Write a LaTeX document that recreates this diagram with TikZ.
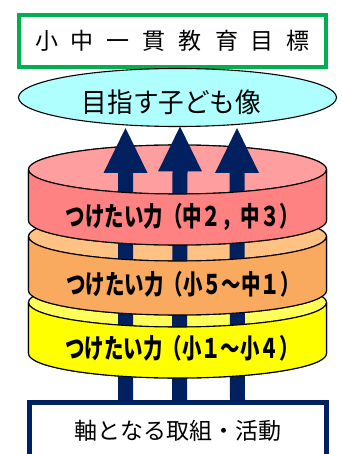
\documentclass[tikz,border=0pt]{standalone}
\usepackage{fontspec}
\usepackage{graphicx}
\setmainfont{Noto Sans CJK JP}
\usetikzlibrary{shapes.geometric,calc}
\definecolor{tgreen}{RGB}{0,176,80}
\definecolor{navy}{RGB}{0,32,96}
\definecolor{goalfill}{RGB}{175,255,255}
\definecolor{pTop}{RGB}{255,158,158}
\definecolor{pSide}{RGB}{255,130,130}
\definecolor{oTop}{RGB}{255,194,130}
\definecolor{oSide}{RGB}{250,170,95}
\definecolor{yTop}{RGB}{255,255,90}
\definecolor{ySide}{RGB}{255,255,0}
\newcommand\jsp{\hspace{13pt}}
\newcommand\lbl[1]{\scalebox{0.72}[1]{\fontsize{27pt}{27pt}\selectfont\bfseries #1}}
\newcommand\blockarrow[2]{%
  \fill[arrowfill] ($(#1)+(-7.5,0)$) -- ($(#2)+(-7.5,-45)$) -- ($(#2)+(-22,-45)$) -- (#2)
    -- ($(#2)+(22,-45)$) -- ($(#2)+(7.5,-45)$) -- ($(#1)+(7.5,0)$) -- cycle;}
\tikzset{
  ell/.style={x radius=149, y radius=24.5},
  cylline/.style={draw=black, line width=1.1pt, line join=round},
  arrowfill/.style={fill=navy},
  lbltext/.style={inner sep=0pt, text=black},
}
\newcommand\cylbody[4]{% top y, bottom y, side colour, top colour
  \path[cylline, fill=#3] (28.5,#1) -- (28.5,#2) arc[ell, start angle=180, end angle=360]
     -- (326.5,#1) arc[ell, start angle=0, end angle=180] -- cycle;
  \path[cylline, fill=#4] (177.5,#1) ellipse [ell];}
\newcommand\cylfront[3]{% top y, bottom y, side colour
  \path[cylline, fill=#3] (28.5,#1) arc[ell, start angle=180, end angle=360]
     -- (326.5,#2) arc[ell, start angle=0, end angle=-180] -- cycle;}
\begin{document}
\begin{tikzpicture}[x=1pt,y=1pt]
\clip (0,0) rectangle (342,-454);
\fill[white] (0,0) rectangle (342,-454);
% title box
\node[draw=tgreen, line width=4pt, fill=white, minimum width=307pt, minimum height=52pt, inner sep=0pt]
  (title) at (172.5,-41) {\fontsize{23pt}{23pt}\selectfont 小\jsp{}中\jsp{}一\jsp{}貫\jsp{}教\jsp{}育\jsp{}目\jsp{}標};
% goal ellipse
\node[ellipse, draw=black, line width=1.1pt, fill=goalfill, minimum width=318pt, minimum height=58pt, inner sep=0pt]
  (goal) at (177.5,-97.5) {};
\node[lbltext] (goaltext) at (171.5,-102) {\scalebox{0.95}[1]{\fontsize{27pt}{27pt}\selectfont 目指す子ども像}};
% cylinders (full bodies)
\cylbody{-302.5}{-353.5}{ySide}{yTop}
\cylbody{-236.5}{-290.5}{oSide}{oTop}
\cylbody{-169.5}{-220.5}{pSide}{pTop}
% arrows
\coordinate (a1b) at (125.5,-401);
\coordinate (a2b) at (179.5,-401);
\coordinate (a3b) at (237.5,-401);
\coordinate (a1t) at (125.5,-128);
\coordinate (a2t) at (180,-126.5);
\coordinate (a3t) at (237,-128);
\blockarrow{a1b}{a1t}
\blockarrow{a2b}{a2t}
\blockarrow{a3b}{a3t}
% front sides cover the shafts
\cylfront{-302.5}{-353.5}{ySide}
\cylfront{-236.5}{-290.5}{oSide}
\cylfront{-169.5}{-220.5}{pSide}
% labels
\node[lbltext] (pl) at (182.5,-217) {\lbl{つけたい力（中２，中３）}};
\node[lbltext] (ol) at (183,-284) {\lbl{つけたい力（小５～中１）}};
\node[lbltext] (yl) at (182,-348) {\lbl{つけたい力（小１～小４）}};
% base box
\node[draw=navy, line width=5pt, fill=white, minimum width=297pt, minimum height=57pt, inner sep=0pt]
  (base) at (178,-431) {\fontsize{23pt}{23pt}\selectfont 軸となる取組・活動};
\end{tikzpicture}
\end{document}
